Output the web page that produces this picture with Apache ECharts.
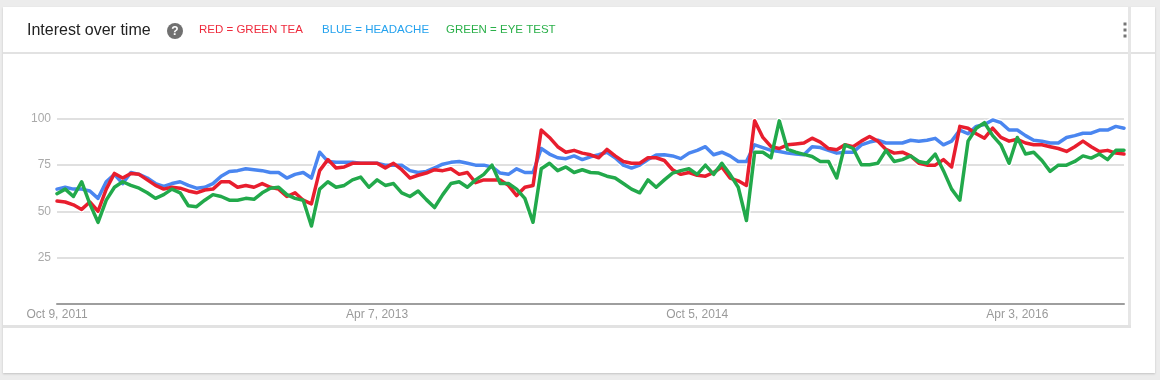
<!DOCTYPE html>
<html><head><meta charset="utf-8">
<script src="https://cdn.jsdelivr.net/npm/echarts@6/dist/echarts.min.js"></script>
<style>
html,body{margin:0;padding:0;background:#ececec;width:1160px;height:380px;overflow:hidden;}
.box{position:absolute;background:#fff;}
#chart{position:absolute;left:0;top:0;width:1160px;height:380px;}
</style></head><body>
<div class="box" style="left:3px;top:7px;width:1152px;height:366px;box-shadow:0 1px 2px rgba(0,0,0,.18)"></div>
<div class="box" style="left:3px;top:52px;width:1152px;height:2px;background:#e2e2e2"></div>
<div class="box" style="left:1128px;top:7px;width:3px;height:320px;background:#e6e6e6"></div>
<div class="box" style="left:3px;top:325px;width:1128px;height:3px;background:#e2e2e2"></div>
<div id="chart"></div>
<script>
// bi-weekly samples starting Oct 9, 2011
var startDate = Date.UTC(2011, 9, 9);
var stepDays = 14;
var monthNames = ['Jan','Feb','Mar','Apr','May','Jun','Jul','Aug','Sep','Oct','Nov','Dec'];

var headache = [62,63,62,62,61,57,66,70,65,71,70,68,65,63.5,65,66,64,62.5,63,65,69,71.5,72,73,72.5,72,71,71,68,70,
71,68,82,77,76.5,76.5,76.5,76,76,76,75,75,75,72,71,71.6,73.5,75.5,76.5,77,76,75,75,74,70.7,70,73,71,71,84,
81,79,78.5,80,78,79.5,80.6,82,79,75,73.4,75,78,80.5,80.6,80,78.5,81.5,83,85,80.6,82,80,77,77,86,84.5,83,82.4,81.5,
81,80.6,85,84.5,83,81.5,82,82,86,87.5,88.5,87,87,87,88.5,88,88.5,89.5,86,88,94,92,96,97,99.5,98,94,94,91,88.5,
88,87,87,90,91,92.3,92.3,94,94,96,95];

var greenTea = [55.5,55,53.5,51,55,50,62,70.5,68,70.5,70,67,64,62,63,62.5,61,60,61.5,62,66,66,63,64,63,65,63,62,58,60,
56,54,72,78,73.4,74,76,76,76,76,73.5,76,72.5,68,69.5,70.7,72.5,72,73,70,71,65.5,67,67,67,64,58.5,63,64,94,
90,85,82,83,81.5,80.6,79,83.5,80,77,76,76,79,79,77.5,72.5,70,71,69.5,69,71,74,68,66.5,64,99,90,85,84,86,
86.5,87,89.6,87.5,84,83.3,86,85,88,90.5,88,83.5,81.5,82,80,76,75,75,78,74,96,95,92,89.6,95,90,88,89,87,86,
86,85,84,82.4,85,88,85,82.4,83,81.5,81];

var eyeTest = [59.5,62,58,66,54,44,56,63,66,64,62.5,60,57,59,62,60,53,52.5,56,59,58,56,56,57,56.5,60,62.5,63,59,57,
56,42,62,66,63,64,67,68.5,63,67,64,65,60,58,61,56.3,52,59,65,66,63,67,70,75,65,65,62,57,44,73,
76,72,74,71,72.5,71,70.7,69,68,65,62,60,67,63,67,70.7,72,73,70,75,70,76,70,63,45,82,82,79,99,83.5,
82,80.8,79.7,77,77,68,86,84,75.2,75.2,76,83,77,78,80,77,76,81,72,62,56,88,95,98,91,86,76,90,81,82,
77.5,71.6,75,75,77,80,78.8,81,78,83,83];

var yTicks = [0, 25, 50, 75, 100];

var categories = [];
for (var i = 0; i < headache.length; i++) {
  var d = new Date(startDate + i * stepDays * 86400000);
  categories.push(monthNames[d.getUTCMonth()] + ' ' + d.getUTCDate() + ', ' + d.getUTCFullYear());
}

var chart = echarts.init(document.getElementById('chart'), null, {renderer: 'canvas'});

function lineSeries(name, data, color, width, halo) {
  return {
    name: name, type: 'line', data: data, showSymbol: false, symbol: 'none',
    clip: false, silent: true, animation: false,
    lineStyle: {color: color, width: width, join: 'round', cap: 'round'},
    z: halo ? 2 : 3
  };
}

chart.setOption({
  animation: false,
  backgroundColor: 'transparent',
  grid: {left: 57, right: 36, top: 119, bottom: 76.5},
  xAxis: {
    type: 'category', boundaryGap: false, data: categories,
    axisLine: {show: true, lineStyle: {color: '#9e9e9e', width: 2}},
    axisTick: {show: false},
    splitLine: {show: false},
    axisLabel: {interval: 38, color: '#9a9a9a', fontSize: 12, fontFamily: 'Arial', margin: 5}
  },
  yAxis: {
    type: 'value', min: yTicks[0], max: yTicks[yTicks.length - 1], interval: 25,
    axisLine: {show: false}, axisTick: {show: false},
    splitLine: {lineStyle: {color: '#e0e0e0', width: 2}},
    axisLabel: {color: '#aaaaaa', fontSize: 12, fontFamily: 'Arial', margin: 6,
      formatter: function (v) { return v === 0 ? '' : String(v); }}
  },
  graphic: [
    {type: 'text', x: 27, y: 31, style: {text: 'Interest over time', font: '16px Arial', fill: '#222222', verticalAlign: 'middle'}},
    {type: 'circle', shape: {cx: 175, cy: 31, r: 8}, style: {fill: '#707070'}},
    {type: 'text', x: 175, y: 31.5, style: {text: '?', font: 'bold 12px Arial', fill: '#ffffff', align: 'center', verticalAlign: 'middle'}},
    {type: 'text', x: 199, y: 30, style: {text: 'RED = GREEN TEA', font: '11.5px Arial', fill: '#ee2a3c', verticalAlign: 'middle'}},
    {type: 'text', x: 322, y: 30, style: {text: 'BLUE = HEADACHE', font: '11.5px Arial', fill: '#25a2ee', verticalAlign: 'middle'}},
    {type: 'text', x: 446, y: 30, style: {text: 'GREEN = EYE TEST', font: '11.5px Arial', fill: '#2bb04a', verticalAlign: 'middle'}},
    {type: 'rect', shape: {x: 1123.5, y: 22.5, width: 3, height: 3}, style: {fill: '#757575'}},
    {type: 'rect', shape: {x: 1123.5, y: 28.5, width: 3, height: 3}, style: {fill: '#757575'}},
    {type: 'rect', shape: {x: 1123.5, y: 34.5, width: 3, height: 3}, style: {fill: '#757575'}}
  ],
  series: [
    lineSeries('headache-halo', headache, '#ffffff', 6, true),
    lineSeries('headache', headache, '#4a86f0', 3.5, false),
    lineSeries('greentea-halo', greenTea, '#ffffff', 6, true),
    lineSeries('greentea', greenTea, '#e81e2e', 3.5, false),
    lineSeries('eyetest-halo', eyeTest, '#ffffff', 6, true),
    lineSeries('eyetest', eyeTest, '#22a94b', 3.5, false)
  ]
});
</script>
</body></html>
